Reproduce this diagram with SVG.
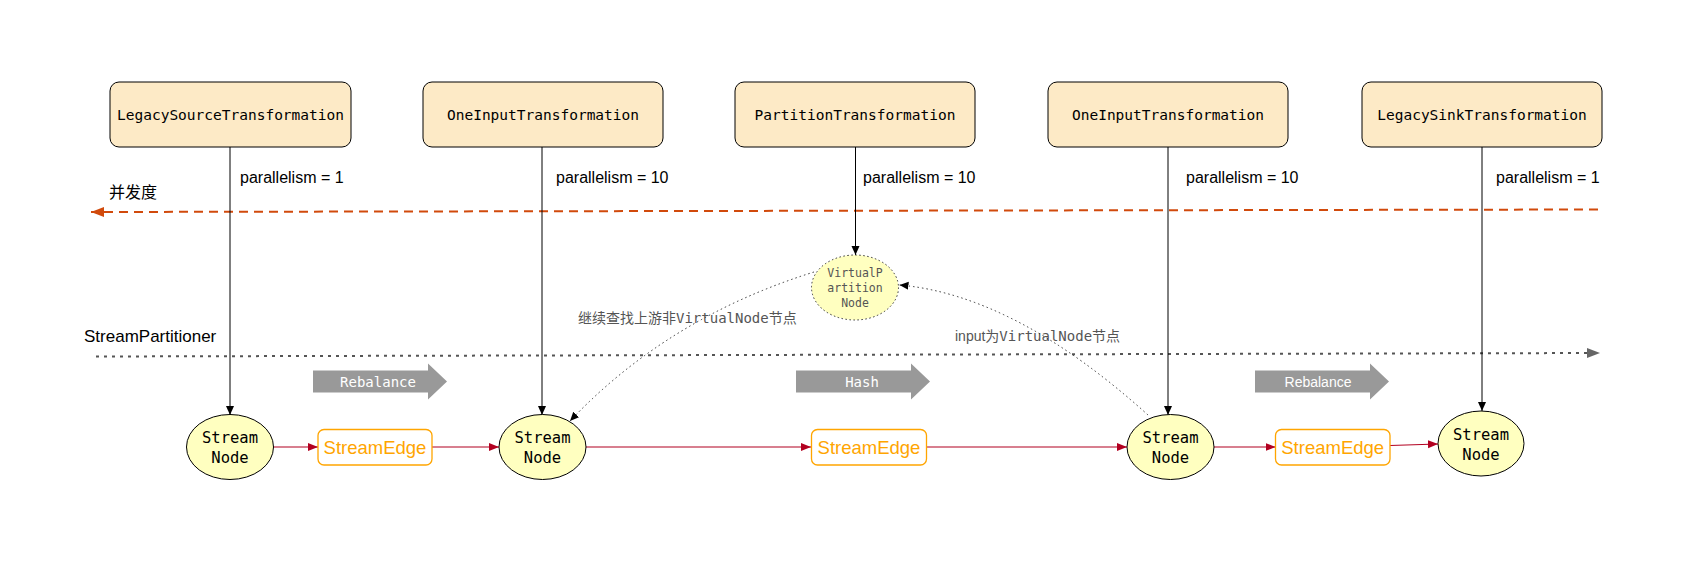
<svg xmlns="http://www.w3.org/2000/svg" width="1688" height="561" viewBox="0 0 1688 561">
<style>
.tbox{fill:#fdeac6;stroke:#000;stroke-width:1}
.mono{font-family:"DejaVu Sans Mono","Liberation Mono",monospace}
.sans{font-family:"Liberation Sans",Arial,sans-serif}
.tlabel{font-size:14.5px;fill:#000;text-anchor:middle}
.par{font-size:16px;fill:#000}
.sn{fill:#ffffc0;stroke:#000;stroke-width:1}
.sntxt{font-size:15.5px;fill:#000;text-anchor:middle}
.se{fill:#fff;stroke:#ffa500;stroke-width:1.3}
.setxt{font-size:18.5px;fill:#ffa500;text-anchor:middle}
.down{stroke:#000;stroke-width:1;fill:none}
.red{stroke:#b20020;stroke-width:1.2;fill:none}
.dot{stroke:#333;stroke-width:1;stroke-dasharray:1.5 3;fill:none}
.garrow{fill:#999}
.gtxt{font-size:14px;fill:#fff;text-anchor:middle}
.note{font-size:14px;fill:#555}
</style>
<defs>
<marker id="ab" markerUnits="userSpaceOnUse" markerWidth="10" markerHeight="10" refX="9" refY="4" orient="auto"><path d="M0,0 L9,4 L0,8 z" fill="#000"/></marker>
<marker id="ar" markerUnits="userSpaceOnUse" markerWidth="12" markerHeight="10" refX="10" refY="4" orient="auto"><path d="M0,0 L10,4 L0,8 z" fill="#b20020"/></marker>
<marker id="ao" markerUnits="userSpaceOnUse" markerWidth="14" markerHeight="12" refX="13" refY="5" orient="auto"><path d="M0,0 L13,5 L0,10 z" fill="#d14a0c"/></marker>
<marker id="ag" markerUnits="userSpaceOnUse" markerWidth="14" markerHeight="12" refX="13" refY="5" orient="auto"><path d="M0,0 L13,5 L0,10 z" fill="#666"/></marker>
<marker id="ad" markerUnits="userSpaceOnUse" markerWidth="10" markerHeight="10" refX="9" refY="4" orient="auto"><path d="M0,0 L9,4 L0,8 z" fill="#000"/></marker>
</defs>
<rect width="1688" height="561" fill="#fff"/>

<g id="labels">
<text x="109" y="197.5" font-size="16" fill="#000" style="font-family:'Liberation Sans','Noto Sans CJK SC',sans-serif">并发度</text>
<text class="sans" x="84" y="342" font-size="17" fill="#000">StreamPartitioner</text>
<text class="sans par" x="240" y="183">parallelism = 1</text>
<text class="sans par" x="556" y="183">parallelism = 10</text>
<text class="sans par" x="863" y="183">parallelism = 10</text>
<text class="sans par" x="1186" y="183">parallelism = 10</text>
<text class="sans par" x="1496" y="183">parallelism = 1</text>
<text class="note" x="578" y="323" style="font-family:'DejaVu Sans Mono','Noto Sans CJK SC',monospace">继续查找上游非VirtualNode节点</text>
<text class="note" x="955" y="341"><tspan style="font-family:'Liberation Sans',sans-serif">input</tspan><tspan style="font-family:'DejaVu Sans Mono','Noto Sans CJK SC',monospace">为VirtualNode节点</tspan></text>
</g>

<g id="guides">
<line x1="1598" y1="209.5" x2="91" y2="212" stroke="#d14a0c" stroke-width="2" stroke-dasharray="9 6" marker-end="url(#ao)"/>
<line x1="96" y1="356.5" x2="1600" y2="353" stroke="#555" stroke-width="2" stroke-dasharray="3 5" marker-end="url(#ag)"/>
</g>

<g id="partition-arrows">
<g id="pa1"><path class="garrow" d="M313,370.5 H428 V363.5 L447,381.5 L428,399.5 V392.5 H313 z"/><text class="mono gtxt" x="378" y="386.5">Rebalance</text></g>
<g id="pa2"><path class="garrow" d="M796,370.5 H911 V363.5 L930,381.5 L911,399.5 V392.5 H796 z"/><text class="mono gtxt" x="862" y="386.5">Hash</text></g>
<g id="pa3"><path class="garrow" d="M1255,370.5 H1370 V363.5 L1389,381.5 L1370,399.5 V392.5 H1255 z"/><text class="sans gtxt" x="1318" y="387" font-size="15">Rebalance</text></g>
</g>

<g id="connectors">
<line class="down" x1="230" y1="147" x2="230" y2="415" marker-end="url(#ab)"/>
<line class="down" x1="542" y1="147" x2="542" y2="415" marker-end="url(#ab)"/>
<line class="down" x1="855.5" y1="147" x2="855.5" y2="255" stroke="#333" marker-end="url(#ab)"/>
<line class="down" x1="1168" y1="147" x2="1168" y2="415" stroke="#333" marker-end="url(#ab)"/>
<line class="down" x1="1482" y1="147" x2="1482" y2="411" marker-end="url(#ab)"/>
<line class="red" x1="273.5" y1="447" x2="318" y2="447" marker-end="url(#ar)"/>
<line class="red" x1="432" y1="447" x2="499" y2="447" marker-end="url(#ar)"/>
<line class="red" x1="586" y1="447" x2="811" y2="447" marker-end="url(#ar)"/>
<line class="red" x1="926.5" y1="447" x2="1127" y2="447" marker-end="url(#ar)"/>
<line class="red" x1="1214" y1="447" x2="1275.5" y2="447" marker-end="url(#ar)"/>
<line class="red" x1="1390" y1="445.5" x2="1438" y2="444" marker-end="url(#ar)"/>
<path class="dot" d="M814,272 Q668,317.5 570,421" marker-end="url(#ad)"/>
<path class="dot" d="M1148,415 Q1015,295 899.5,285" marker-end="url(#ad)"/>
</g>

<g id="t1"><rect class="tbox" x="110" y="82" width="241" height="65" rx="9"/><text class="mono tlabel" x="230.5" y="119.5">LegacySourceTransformation</text></g>
<g id="t2"><rect class="tbox" x="423" y="82" width="240" height="65" rx="9"/><text class="mono tlabel" x="543" y="119.5">OneInputTransformation</text></g>
<g id="t3"><rect class="tbox" x="735" y="82" width="240" height="65" rx="9"/><text class="mono tlabel" x="855" y="119.5">PartitionTransformation</text></g>
<g id="t4"><rect class="tbox" x="1048" y="82" width="240" height="65" rx="9"/><text class="mono tlabel" x="1168" y="119.5">OneInputTransformation</text></g>
<g id="t5"><rect class="tbox" x="1362" y="82" width="240" height="65" rx="9"/><text class="mono tlabel" x="1482" y="119.5">LegacySinkTransformation</text></g>

<g id="vpn"><ellipse cx="855" cy="287.5" rx="43.5" ry="32.5" fill="#ffffc0" stroke="#333" stroke-width="1" stroke-dasharray="1.5 2.5"/>
<text class="mono" x="855" y="276.7" font-size="11.5" fill="#555" text-anchor="middle">VirtualP</text>
<text class="mono" x="855" y="291.5" font-size="11.5" fill="#555" text-anchor="middle">artition</text>
<text class="mono" x="855" y="306.7" font-size="11.5" fill="#555" text-anchor="middle">Node</text></g>

<g id="sn1"><ellipse class="sn" cx="230" cy="447" rx="43.5" ry="32.5"/><text class="mono sntxt" x="230" y="443.3">Stream</text><text class="mono sntxt" x="230" y="463.3">Node</text></g>
<g id="sn2"><ellipse class="sn" cx="542.5" cy="447" rx="43.5" ry="32.5"/><text class="mono sntxt" x="542.5" y="443.3">Stream</text><text class="mono sntxt" x="542.5" y="463.3">Node</text></g>
<g id="sn3"><ellipse class="sn" cx="1170.5" cy="447" rx="43.5" ry="32.5"/><text class="mono sntxt" x="1170.5" y="443.3">Stream</text><text class="mono sntxt" x="1170.5" y="463.3">Node</text></g>
<g id="sn4"><ellipse class="sn" cx="1481" cy="443.5" rx="43" ry="32.5"/><text class="mono sntxt" x="1481" y="439.5">Stream</text><text class="mono sntxt" x="1481" y="459.5">Node</text></g>

<g id="se1"><rect class="se" x="318" y="429.5" width="114" height="35.5" rx="6"/><text class="sans setxt" x="375" y="454">StreamEdge</text></g>
<g id="se2"><rect class="se" x="811.5" y="429.5" width="115" height="35.5" rx="6"/><text class="sans setxt" x="869" y="454">StreamEdge</text></g>
<g id="se3"><rect class="se" x="1275.5" y="429.5" width="114.5" height="35.5" rx="6"/><text class="sans setxt" x="1332.7" y="454">StreamEdge</text></g>
</svg>
